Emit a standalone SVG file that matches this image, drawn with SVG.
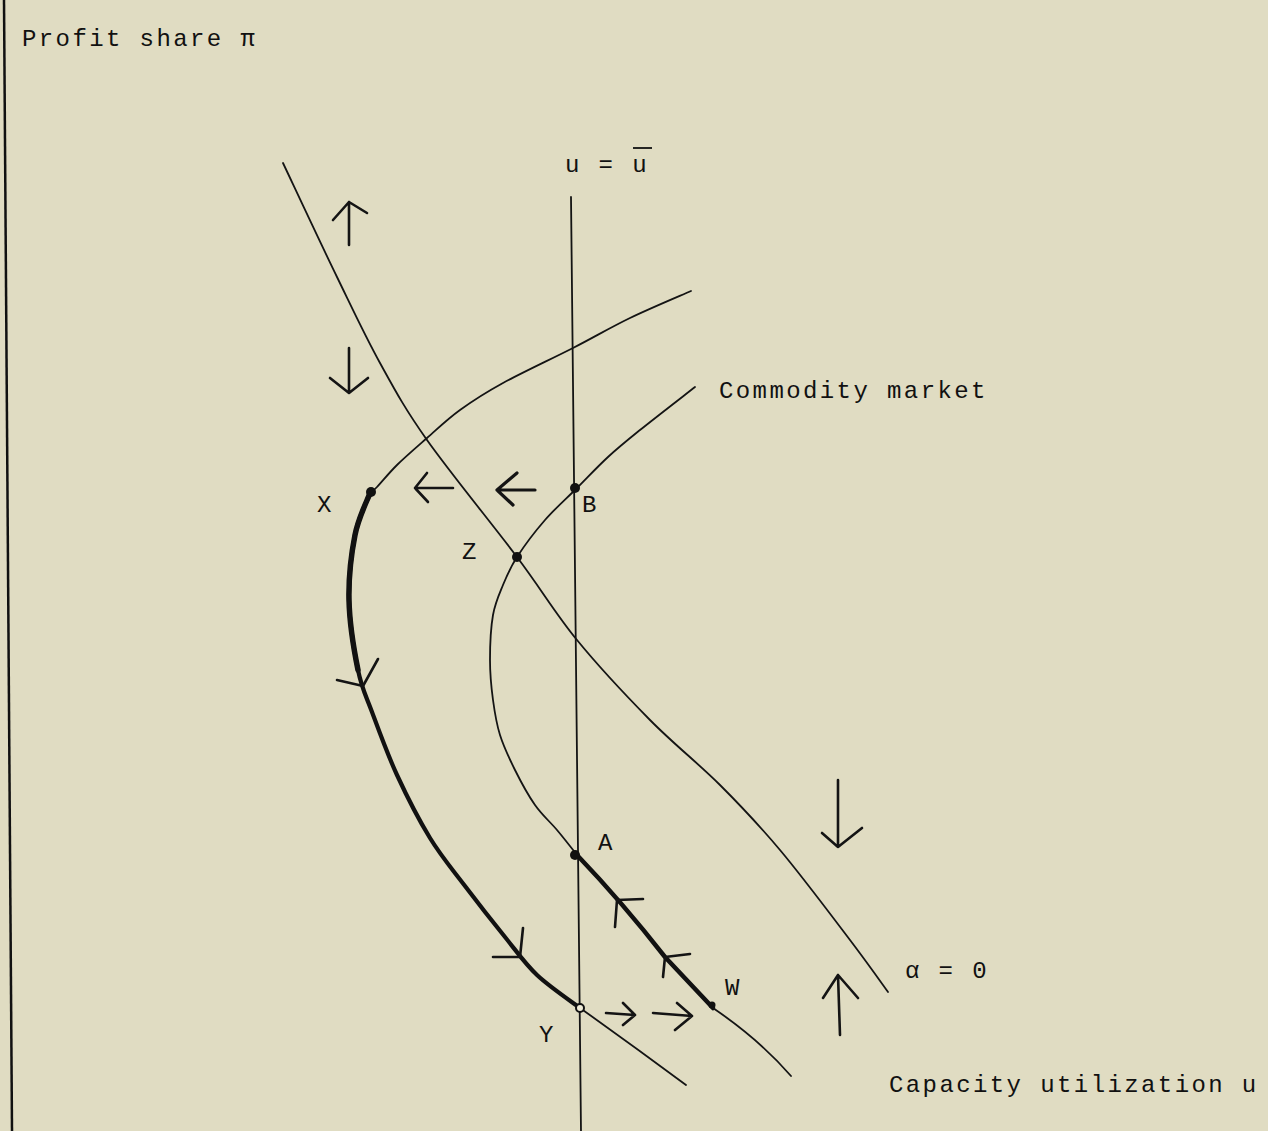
<svg xmlns="http://www.w3.org/2000/svg" width="1268" height="1131" viewBox="0 0 1268 1131">
<style>
.bg{fill:#e0dcc2}
.t{font-family:"Liberation Mono","DejaVu Sans Mono",monospace;font-size:24px;letter-spacing:2.4px;fill:#111}
.thin{fill:none;stroke:#141414;stroke-width:1.8;stroke-linecap:round;stroke-linejoin:round}
.thick{fill:none;stroke:#111;stroke-width:4.2;stroke-linecap:round;stroke-linejoin:round}
.arr{fill:none;stroke:#141414;stroke-width:2.6;stroke-linecap:round;stroke-linejoin:round}
.dot{fill:#111}
</style>
<rect class="bg" x="0" y="0" width="1268" height="1131"/>
<g id="axes">
<line x1="4" y1="0" x2="12" y2="1131" stroke="#111" stroke-width="2.5"/>
<text class="t" x="22" y="46">Profit share π</text>
<text class="t" x="889" y="1092">Capacity utilization u</text>
</g>
<g id="connectors">
<path id="u-bar-line" class="thin" d="M571,197 L581,1131"/>
<path id="alpha-zero" class="thin" d="M283,163 C292,182 320.8,243.7 337,277 C353.2,310.3 365,335.8 380,363 C395,390.2 404.2,407.7 427,440 C449.8,472.3 492,523.7 517,557 C542,590.3 554.8,612.8 577,640 C599.2,667.2 626.2,695.8 650,720 C673.8,744.2 698.3,763.3 720,785 C741.7,806.7 758.3,824.2 780,850 C801.7,875.8 832,916.3 850,940 C868,963.7 881.7,983.3 888,992"/>
<path id="commodity-upper" class="thin" d="M691,291 C680.8,295.5 649.7,308.5 630,318 C610.3,327.5 594.2,337.2 573,348 C551.8,358.8 521.8,372.7 503,383 C484.2,393.3 472.7,400.8 460,410 C447.3,419.2 437.5,428.8 427,438 C416.5,447.2 405.3,456.8 397,465 C388.7,473.2 381.5,482.3 377,487 C372.5,491.7 371.2,492 370,493"/>
<path id="commodity-upper-tail" class="thin" d="M580,1008 Q632,1045 686,1085"/>
<path id="path-XY" class="thick" d="M370,493 C367.5,500 358.5,517.2 355,535 C351.5,552.8 348.5,577.5 349,600 C349.5,622.5 354.2,651.3 358,670 C361.8,688.7 365.5,694.5 372,712 C378.5,729.5 387.3,754 397,775 C406.7,796 418.7,819.5 430,838 C441.3,856.5 452.5,869.5 465,886 C477.5,902.5 493,922.2 505,937 C517,951.8 524.5,963.2 537,975 C549.5,986.8 572.8,1002.5 580,1008"/>
<path id="path-XY-heavy" class="thick" style="stroke-width:5.5" d="M370,493 C367.5,500 358.5,517.2 355,535 C351.5,552.8 348.5,577.5 349,600 C349.5,622.5 354.2,651.3 358,670"/>
<path id="commodity-lower" class="thin" d="M695,387 C685.8,394.2 654.5,418.3 640,430 C625.5,441.7 618.5,447.3 608,457 C597.5,466.7 587.5,477.5 577,488 C566.5,498.5 555,508.5 545,520 C535,531.5 524,546.2 517,557 C510,567.8 507,575.3 503,585 C499,594.7 495.2,602.5 493,615 C490.8,627.5 490,645.8 490,660 C490,674.2 491.3,687.5 493,700 C494.7,712.5 496.3,723.3 500,735 C503.7,746.7 509.2,758.3 515,770 C520.8,781.7 528,795 535,805 C542,815 550,821.7 557,830 C564,838.3 573.7,850.8 577,855"/>
<path id="path-AW" class="thick" style="stroke-width:4.5" d="M577,855 Q622,902 665,957 L713,1008"/>
<path id="commodity-lower-tail" class="thin" d="M713,1008 Q760,1040 791,1076"/>
<path class="arr" d="M349,245 L349,202 M333,220 L349,202 L367,213"/>
<path class="arr" d="M349,348 L349,392 M330,378 L349,393 L368,378"/>
<path class="arr" d="M453,488 L415,488 M427,473 L415,488 L428,502"/>
<path class="arr" style="stroke-width:3.2" d="M535,490 L497,490 M517,473 L497,490 L513,505"/>
<path class="arr" d="M838,780 L838,847 M822,833 L838,847 L862,828"/>
<path class="arr" d="M840,1035 L838,975 M823,998 L838,975 L858,998"/>
<path class="arr" d="M606,1013 L635,1015 M623,1003 L635,1015 L623,1025"/>
<path class="arr" d="M653,1013 L692,1016 M677,1003 L692,1016 L675,1030"/>
<path class="arr" d="M337,680 L363,686 L378,659"/>
<path class="arr" d="M493,957 L520,957 L523,928"/>
<path class="arr" d="M643,899 L617,900 L615,927"/>
<path class="arr" d="M690,954 L665,957 L663,977"/>
</g>
<g id="label-u"><text class="t" x="565" y="172">u = u</text><line x1="633" y1="148" x2="652" y2="148" stroke="#111" stroke-width="1.8"/></g>
<g id="label-commodity"><text class="t" x="719" y="398">Commodity market</text></g>
<g id="label-alpha"><text class="t" x="905" y="978">α = 0</text></g>
<g id="node-X"><circle class="dot" cx="371" cy="492" r="5"/><text class="t" x="317" y="512">X</text></g>
<g id="node-B"><circle class="dot" cx="575" cy="488" r="5"/><text class="t" x="582" y="512">B</text></g>
<g id="node-Z"><circle class="dot" cx="517" cy="557" r="5"/><text class="t" x="462" y="559">Z</text></g>
<g id="node-A"><circle class="dot" cx="575" cy="855" r="5"/><text class="t" x="598" y="850">A</text></g>
<g id="node-W"><circle class="dot" cx="712" cy="1005" r="3.5"/><text class="t" x="725" y="995">W</text></g>
<g id="node-Y"><circle cx="580" cy="1008" r="4" fill="#f0ecd8" stroke="#111" stroke-width="2"/><text class="t" x="539" y="1042">Y</text></g>
</svg>
